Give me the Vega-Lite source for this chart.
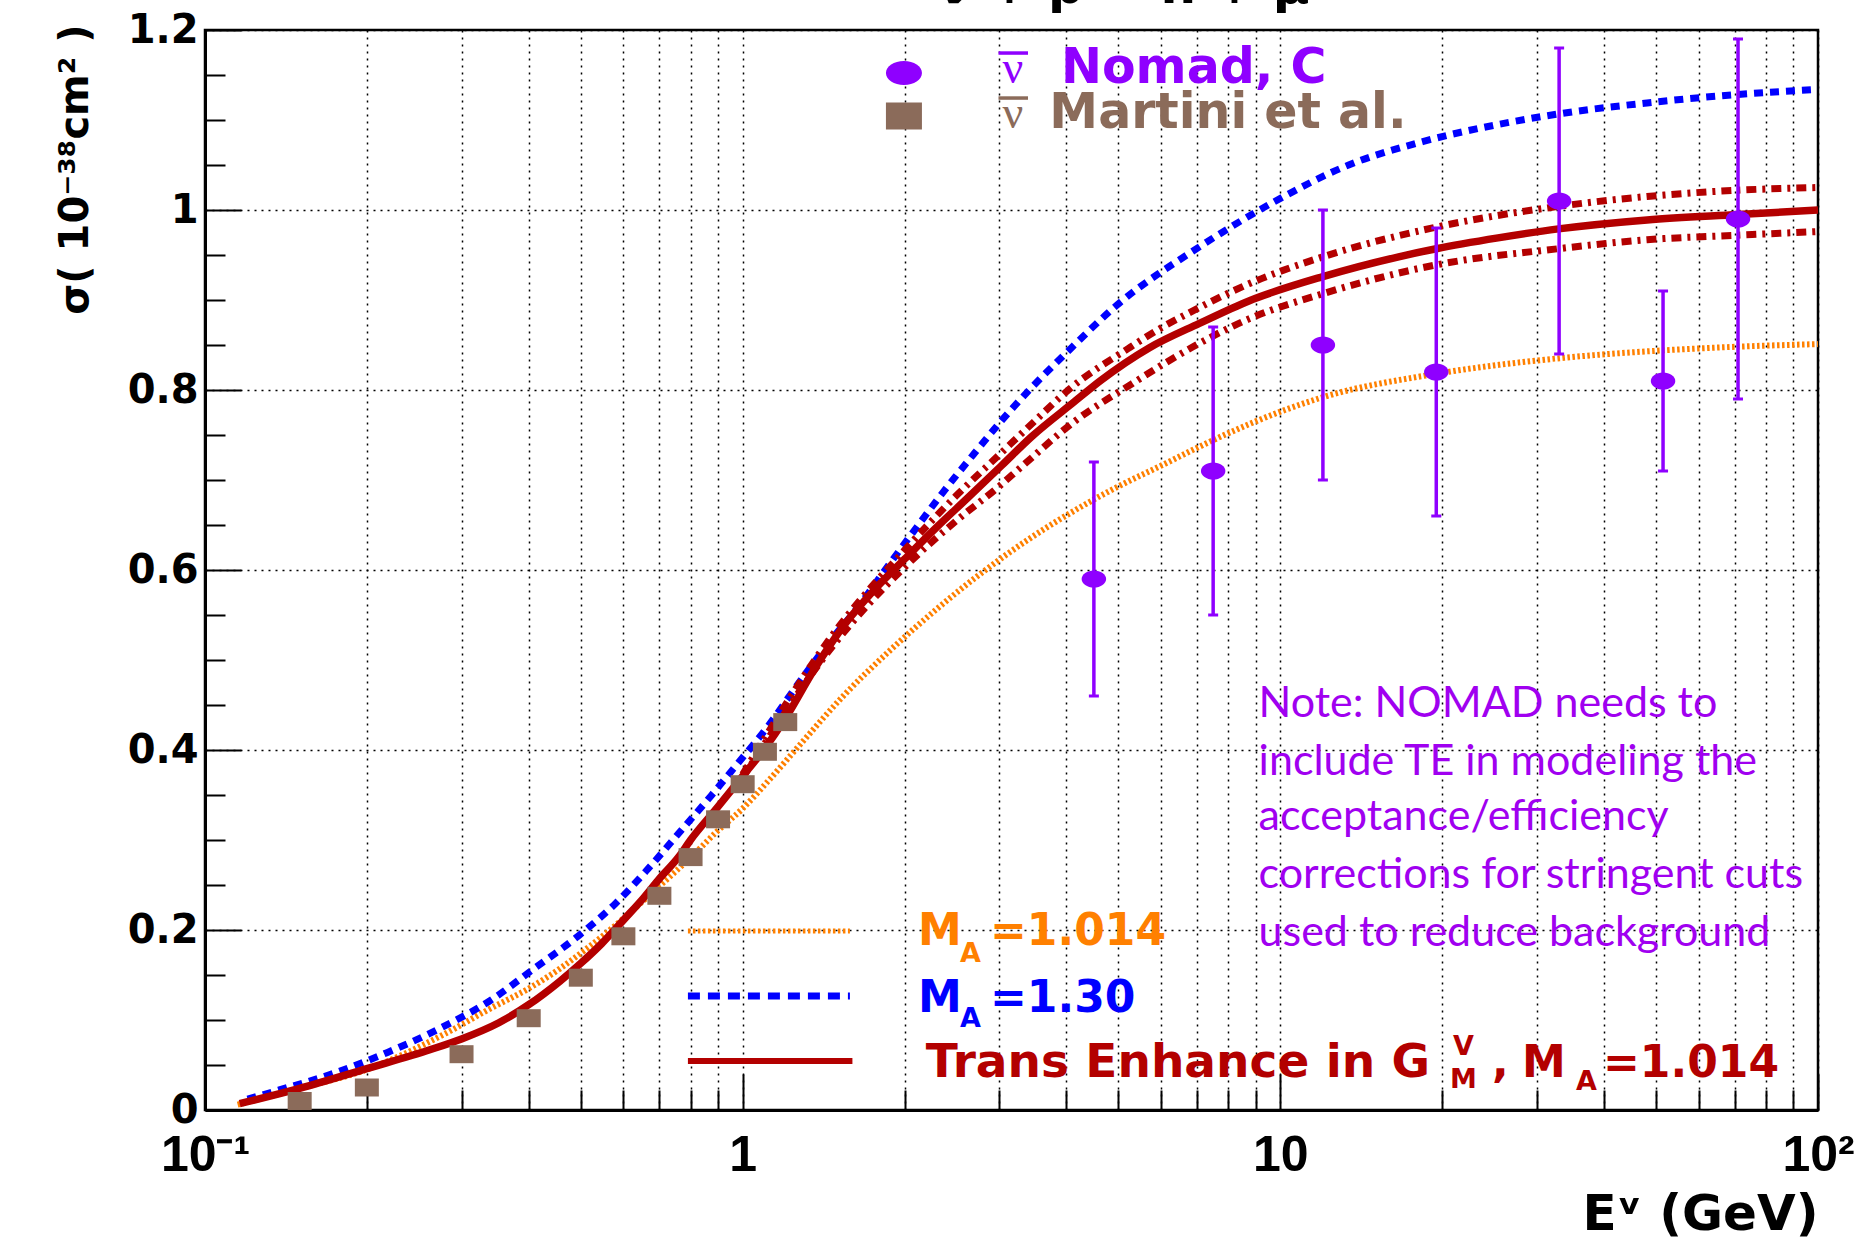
{
 "$schema": "https://vega.github.io/schema/vega-lite/v6.json",
 "width": 1613, "height": 1080,
 "autosize": "none",
 "padding": {"left": 205, "top": 30, "right": 47, "bottom": 130},
 "background": "white",
 "config": {"view": {"stroke": "black", "strokeWidth": 2.5}},
 "title": {"text": "ν + p → n + μ⁺", "anchor": "middle", "dx": 125, "dy": 37, "offset": -6, "baseline": "alphabetic", "font": "DejaVu Sans", "fontSize": 50, "fontWeight": "bold", "color": "black"},
 "datasets": {
  "curves": [
   {"E":0.115,"sigma":0.006,"series":"MA=1.014"},{"E":0.15,"sigma":0.024,"series":"MA=1.014"},{"E":0.2,"sigma":0.045,"series":"MA=1.014"},{"E":0.28,"sigma":0.085,"series":"MA=1.014"},{"E":0.34,"sigma":0.113,"series":"MA=1.014"},{"E":0.4,"sigma":0.135,"series":"MA=1.014"},{"E":0.457,"sigma":0.157,"series":"MA=1.014"},{"E":0.512,"sigma":0.179,"series":"MA=1.014"},{"E":0.556,"sigma":0.196,"series":"MA=1.014"},{"E":0.614,"sigma":0.218,"series":"MA=1.014"},{"E":0.677,"sigma":0.241,"series":"MA=1.014"},{"E":0.747,"sigma":0.264,"series":"MA=1.014"},{"E":0.824,"sigma":0.288,"series":"MA=1.014"},{"E":0.894,"sigma":0.309,"series":"MA=1.014"},{"E":1.0,"sigma":0.335,"series":"MA=1.014"},{"E":1.125,"sigma":0.368,"series":"MA=1.014"},{"E":1.27,"sigma":0.404,"series":"MA=1.014"},{"E":1.55,"sigma":0.462,"series":"MA=1.014"},{"E":1.89,"sigma":0.512,"series":"MA=1.014"},{"E":2.3,"sigma":0.557,"series":"MA=1.014"},{"E":2.8,"sigma":0.598,"series":"MA=1.014"},{"E":3.4,"sigma":0.634,"series":"MA=1.014"},{"E":4.14,"sigma":0.666,"series":"MA=1.014"},{"E":5.04,"sigma":0.694,"series":"MA=1.014"},{"E":6.1,"sigma":0.718,"series":"MA=1.014"},{"E":7.07,"sigma":0.737,"series":"MA=1.014"},{"E":8.74,"sigma":0.762,"series":"MA=1.014"},{"E":12,"sigma":0.792,"series":"MA=1.014"},{"E":19.5,"sigma":0.818,"series":"MA=1.014"},{"E":31.4,"sigma":0.834,"series":"MA=1.014"},{"E":51.4,"sigma":0.844,"series":"MA=1.014"},{"E":70,"sigma":0.848,"series":"MA=1.014"},{"E":100,"sigma":0.851,"series":"MA=1.014"},
   {"E":0.12,"sigma":0.012,"series":"MA=1.30"},{"E":0.137,"sigma":0.022,"series":"MA=1.30"},{"E":0.174,"sigma":0.041,"series":"MA=1.30"},{"E":0.2185,"sigma":0.064,"series":"MA=1.30"},{"E":0.27,"sigma":0.089,"series":"MA=1.30"},{"E":0.34,"sigma":0.122,"series":"MA=1.30"},{"E":0.407,"sigma":0.156,"series":"MA=1.30"},{"E":0.496,"sigma":0.194,"series":"MA=1.30"},{"E":0.579,"sigma":0.229,"series":"MA=1.30"},{"E":0.66,"sigma":0.265,"series":"MA=1.30"},{"E":0.772,"sigma":0.312,"series":"MA=1.30"},{"E":0.873,"sigma":0.349,"series":"MA=1.30"},{"E":0.979,"sigma":0.385,"series":"MA=1.30"},{"E":1.11,"sigma":0.425,"series":"MA=1.30"},{"E":1.27,"sigma":0.474,"series":"MA=1.30"},{"E":1.45,"sigma":0.52,"series":"MA=1.30"},{"E":1.65,"sigma":0.561,"series":"MA=1.30"},{"E":1.83,"sigma":0.598,"series":"MA=1.30"},{"E":2.08,"sigma":0.643,"series":"MA=1.30"},{"E":2.37,"sigma":0.688,"series":"MA=1.30"},{"E":2.7,"sigma":0.73,"series":"MA=1.30"},{"E":3.03,"sigma":0.766,"series":"MA=1.30"},{"E":3.4,"sigma":0.799,"series":"MA=1.30"},{"E":4.01,"sigma":0.842,"series":"MA=1.30"},{"E":4.96,"sigma":0.894,"series":"MA=1.30"},{"E":7.07,"sigma":0.959,"series":"MA=1.30"},{"E":9.73,"sigma":1.009,"series":"MA=1.30"},{"E":13.4,"sigma":1.05,"series":"MA=1.30"},{"E":18.4,"sigma":1.076,"series":"MA=1.30"},{"E":25.4,"sigma":1.095,"series":"MA=1.30"},{"E":34.9,"sigma":1.109,"series":"MA=1.30"},{"E":48.1,"sigma":1.119,"series":"MA=1.30"},{"E":66.2,"sigma":1.127,"series":"MA=1.30"},{"E":100,"sigma":1.134,"series":"MA=1.30"},
   {"E":1.0,"sigma":0.373,"series":"TE upper"},{"E":1.5,"sigma":0.535,"series":"TE upper"},{"E":2.0,"sigma":0.622,"series":"TE upper"},{"E":2.5,"sigma":0.683,"series":"TE upper"},{"E":3.0,"sigma":0.728,"series":"TE upper"},{"E":3.5,"sigma":0.766,"series":"TE upper"},{"E":4.07,"sigma":0.802,"series":"TE upper"},{"E":5.21,"sigma":0.846,"series":"TE upper"},{"E":6.0,"sigma":0.869,"series":"TE upper"},{"E":6.78,"sigma":0.886,"series":"TE upper"},{"E":8.74,"sigma":0.918,"series":"TE upper"},{"E":12,"sigma":0.948,"series":"TE upper"},{"E":19.5,"sigma":0.981,"series":"TE upper"},{"E":32.9,"sigma":1.004,"series":"TE upper"},{"E":48.1,"sigma":1.015,"series":"TE upper"},{"E":71,"sigma":1.022,"series":"TE upper"},{"E":100,"sigma":1.025,"series":"TE upper"},
   {"E":1.0,"sigma":0.369,"series":"TE lower"},{"E":1.5,"sigma":0.522,"series":"TE lower"},{"E":2.0,"sigma":0.603,"series":"TE lower"},{"E":2.5,"sigma":0.655,"series":"TE lower"},{"E":3.0,"sigma":0.693,"series":"TE lower"},{"E":3.29,"sigma":0.714,"series":"TE lower"},{"E":4.14,"sigma":0.765,"series":"TE lower"},{"E":5.3,"sigma":0.807,"series":"TE lower"},{"E":6.88,"sigma":0.848,"series":"TE lower"},{"E":8.74,"sigma":0.879,"series":"TE lower"},{"E":12,"sigma":0.907,"series":"TE lower"},{"E":19.5,"sigma":0.939,"series":"TE lower"},{"E":32.9,"sigma":0.957,"series":"TE lower"},{"E":48.1,"sigma":0.967,"series":"TE lower"},{"E":71,"sigma":0.972,"series":"TE lower"},{"E":100,"sigma":0.976,"series":"TE lower"},
   {"E":0.116,"sigma":0.007,"series":"TE"},{"E":0.15,"sigma":0.024,"series":"TE"},{"E":0.2,"sigma":0.046,"series":"TE"},{"E":0.262,"sigma":0.067,"series":"TE"},{"E":0.3,"sigma":0.079,"series":"TE"},{"E":0.352,"sigma":0.097,"series":"TE"},{"E":0.4,"sigma":0.117,"series":"TE"},{"E":0.457,"sigma":0.143,"series":"TE"},{"E":0.5,"sigma":0.163,"series":"TE"},{"E":0.547,"sigma":0.185,"series":"TE"},{"E":0.6,"sigma":0.211,"series":"TE"},{"E":0.655,"sigma":0.236,"series":"TE"},{"E":0.7,"sigma":0.257,"series":"TE"},{"E":0.76,"sigma":0.281,"series":"TE"},{"E":0.8,"sigma":0.3,"series":"TE"},{"E":0.9,"sigma":0.337,"series":"TE"},{"E":1.0,"sigma":0.371,"series":"TE"},{"E":1.1,"sigma":0.402,"series":"TE"},{"E":1.2,"sigma":0.435,"series":"TE"},{"E":1.36,"sigma":0.49,"series":"TE"},{"E":1.55,"sigma":0.54,"series":"TE"},{"E":1.77,"sigma":0.58,"series":"TE"},{"E":2.0,"sigma":0.612,"series":"TE"},{"E":2.3,"sigma":0.648,"series":"TE"},{"E":2.62,"sigma":0.68,"series":"TE"},{"E":3.03,"sigma":0.716,"series":"TE"},{"E":3.46,"sigma":0.749,"series":"TE"},{"E":4.14,"sigma":0.787,"series":"TE"},{"E":4.62,"sigma":0.81,"series":"TE"},{"E":5.71,"sigma":0.847,"series":"TE"},{"E":7.07,"sigma":0.874,"series":"TE"},{"E":8.74,"sigma":0.899,"series":"TE"},{"E":12,"sigma":0.926,"series":"TE"},{"E":16.6,"sigma":0.948,"series":"TE"},{"E":19.5,"sigma":0.957,"series":"TE"},{"E":25.4,"sigma":0.969,"series":"TE"},{"E":32.9,"sigma":0.979,"series":"TE"},{"E":48.1,"sigma":0.989,"series":"TE"},{"E":71,"sigma":0.995,"series":"TE"},{"E":100,"sigma":1.0,"series":"TE"}
  ],
  "legendlines": [
   {"E":0.791,"sigma":0.1989,"series":"MA=1.014"},{"E":1.583,"sigma":0.1989,"series":"MA=1.014"},
   {"E":0.791,"sigma":0.1267,"series":"MA=1.30"},{"E":1.583,"sigma":0.1267,"series":"MA=1.30"},
   {"E":0.791,"sigma":0.0544,"series":"TE"},{"E":1.6,"sigma":0.0544,"series":"TE"}
  ],
  "nomad": [
   {"E":4.5,"sigma":0.59,"lo":0.46,"hi":0.72},
   {"E":7.5,"sigma":0.71,"lo":0.55,"hi":0.87},
   {"E":12,"sigma":0.85,"lo":0.70,"hi":1.0},
   {"E":19.5,"sigma":0.82,"lo":0.66,"hi":0.98},
   {"E":33,"sigma":1.01,"lo":0.84,"hi":1.18},
   {"E":51.5,"sigma":0.81,"lo":0.71,"hi":0.91},
   {"E":71,"sigma":0.99,"lo":0.79,"hi":1.19}
  ],
  "martini": [
   {"E":0.15,"sigma":0.010},{"E":0.2,"sigma":0.025},{"E":0.3,"sigma":0.062},{"E":0.4,"sigma":0.102},{"E":0.5,"sigma":0.147},{"E":0.6,"sigma":0.193},{"E":0.7,"sigma":0.238},{"E":0.8,"sigma":0.281},{"E":0.9,"sigma":0.323},{"E":1.0,"sigma":0.362},{"E":1.1,"sigma":0.398},{"E":1.2,"sigma":0.431}
  ],
  "legendmarks": [
   {"E":1.995,"sigma":1.1522,"series":"Nomad"},
   {"E":1.995,"sigma":1.1044,"series":"Martini"}
  ],
  "bars": [
   {"E":2.991,"E2":3.394,"sigma":1.1744,"series":"Nomad"},
   {"E":2.991,"E2":3.394,"sigma":1.1244,"series":"Martini"}
  ],
  "texts": [
   {"E":3.183,"sigma":1.1411,"text":"ν","series":"Nomad","kind":"nu"},
   {"E":3.183,"sigma":1.0911,"text":"ν","series":"Martini","kind":"nu"},
   {"E":6.9,"sigma":1.1408,"text":"Nomad, C","series":"Nomad","kind":"top"},
   {"E":7.99,"sigma":1.0911,"text":"Martini et al.","series":"Martini","kind":"top"},
   {"E":2.119,"sigma":0.1833,"text":"M","series":"MA=1.014","kind":"big"},
   {"E":2.536,"sigma":0.1644,"text":"A","series":"MA=1.014","kind":"sub"},
   {"E":2.884,"sigma":0.1833,"text":"=1.014","series":"MA=1.014","kind":"big"},
   {"E":2.119,"sigma":0.1089,"text":"M","series":"MA=1.30","kind":"big"},
   {"E":2.536,"sigma":0.0922,"text":"A","series":"MA=1.30","kind":"sub"},
   {"E":2.884,"sigma":0.1089,"text":"=1.30","series":"MA=1.30","kind":"big"},
   {"E":6.45,"sigma":0.0367,"text":"Trans Enhance in G","series":"TE","kind":"te"},
   {"E":20.95,"sigma":0.0611,"text":"V","series":"TE","kind":"sub"},
   {"E":20.68,"sigma":0.0244,"text":"M","series":"TE","kind":"sub"},
   {"E":24.75,"sigma":0.0367,"text":",","series":"TE","kind":"big"},
   {"E":28.14,"sigma":0.0367,"text":"M","series":"TE","kind":"big"},
   {"E":35.47,"sigma":0.0222,"text":"A","series":"TE","kind":"sub"},
   {"E":39.82,"sigma":0.0367,"text":"=1.014","series":"TE","kind":"big"},
   {"E":9.11,"sigma":0.437,"text":"Note: NOMAD needs to","series":"note","kind":"note"},
   {"E":9.11,"sigma":0.372,"text":"include TE in modeling  the","series":"note","kind":"note"},
   {"E":9.11,"sigma":0.311,"text":"acceptance/efficiency","series":"note","kind":"note"},
   {"E":9.11,"sigma":0.247,"text":"corrections for stringent cuts","series":"note","kind":"note"},
   {"E":9.11,"sigma":0.182,"text":"used to reduce background","series":"note","kind":"note"}
  ]
 },
 "layer": [
  {
   "data": {"name": "curves"},
   "transform": [{"filter": "datum.series == 'MA=1.014'"}],
   "mark": {"type": "line", "color": "#ff8000", "strokeWidth": 6, "strokeDash": [2.5, 2.5], "interpolate": "monotone", "clip": true},
   "encoding": {
    "x": {"field": "E", "type": "quantitative", "scale": {"type": "log", "domain": [0.1, 100], "nice": false},
     "axis": {
      "title": "Eᵛ (GeV)",
      "values": [0.1,0.2,0.3,0.4,0.5,0.6,0.7,0.8,0.9,1,2,3,4,5,6,7,8,9,10,20,30,40,50,60,70,80,90,100],
      "labelExpr": "datum.value == 0.1 ? '10⁻¹' : datum.value == 1 ? '1' : datum.value == 10 ? '10' : datum.value == 100 ? '10²' : ''",
      "grid": true, "gridColor": "black", "gridDash": [2, 5], "gridWidth": 1.5, "gridOpacity": 1,
      "domainColor": "black", "domainWidth": 3,
      "tickColor": "black", "tickWidth": 2,
      "tickSize": {"condition": {"test": "datum.value == 0.1 || datum.value == 1 || datum.value == 10 || datum.value == 100", "value": -36}, "value": -20},
      "labelPadding": 56, "labelFont": "Liberation Sans Narrow, Liberation Sans", "labelFontSize": 50, "labelFontWeight": "bold", "labelColor": "black",
      "labelFlush": false, "labelOverlap": false, "labelBound": false,
      "titleX": 1613, "titleY": 119, "titleAlign": "right", "titleAnchor": "end", "titleBaseline": "alphabetic",
      "titleFont": "DejaVu Sans", "titleFontSize": 50, "titleFontWeight": "bold", "titleColor": "black"
     }},
    "y": {"field": "sigma", "type": "quantitative", "scale": {"domain": [0, 1.2], "nice": false, "zero": false},
     "axis": {
      "title": "σ( 10⁻³⁸cm² )",
      "values": [0,0.05,0.1,0.15,0.2,0.25,0.3,0.35,0.4,0.45,0.5,0.55,0.6,0.65,0.7,0.75,0.8,0.85,0.9,0.95,1,1.05,1.1,1.15,1.2],
      "labelExpr": "abs(datum.value*5 - round(datum.value*5)) < 0.001 ? format(datum.value, '~g') : ''",
      "grid": true, "gridColor": "black", "gridDash": [2, 5], "gridWidth": 1.5,
      "gridOpacity": {"condition": {"test": "abs(datum.value*5 - round(datum.value*5)) < 0.001", "value": 1}, "value": 0},
      "domainColor": "black", "domainWidth": 3,
      "tickColor": "black", "tickWidth": 2,
      "tickSize": {"condition": {"test": "abs(datum.value*5 - round(datum.value*5)) < 0.001", "value": -36}, "value": -20},
      "labelPadding": 43, "labelFont": "DejaVu Sans", "labelFontSize": 40, "labelFontWeight": "bold", "labelColor": "black",
      "labelFlush": false, "labelOverlap": false, "labelBound": false,
      "titleAngle": -90, "titleX": -118, "titleY": -6, "titleAlign": "right", "titleBaseline": "alphabetic",
      "titleFont": "DejaVu Sans", "titleFontSize": 40, "titleFontWeight": "bold", "titleColor": "black"
     }}
   }
  },
  {
   "data": {"name": "curves"},
   "transform": [{"filter": "datum.series == 'MA=1.30'"}],
   "mark": {"type": "line", "color": "#0000ff", "strokeWidth": 7, "strokeDash": [9, 7], "interpolate": "monotone", "clip": true},
   "encoding": {"x": {"field": "E", "type": "quantitative"}, "y": {"field": "sigma", "type": "quantitative"}}
  },
  {
   "data": {"name": "curves"},
   "transform": [{"filter": "datum.series == 'TE upper' || datum.series == 'TE lower'"}],
   "mark": {"type": "line", "color": "#b30000", "strokeWidth": 7, "strokeDash": [10, 6, 3, 6], "interpolate": "monotone", "clip": true},
   "encoding": {"x": {"field": "E", "type": "quantitative"}, "y": {"field": "sigma", "type": "quantitative"}, "detail": {"field": "series"}}
  },
  {
   "data": {"name": "curves"},
   "transform": [{"filter": "datum.series == 'TE'"}],
   "mark": {"type": "line", "color": "#b30000", "strokeWidth": 7.5, "interpolate": "monotone", "clip": true},
   "encoding": {"x": {"field": "E", "type": "quantitative"}, "y": {"field": "sigma", "type": "quantitative"}}
  },
  {
   "data": {"name": "legendlines"},
   "transform": [{"filter": "datum.series == 'MA=1.014'"}],
   "mark": {"type": "line", "color": "#ff8000", "strokeWidth": 5, "strokeDash": [2.5, 2.5]},
   "encoding": {"x": {"field": "E", "type": "quantitative"}, "y": {"field": "sigma", "type": "quantitative"}}
  },
  {
   "data": {"name": "legendlines"},
   "transform": [{"filter": "datum.series == 'MA=1.30'"}],
   "mark": {"type": "line", "color": "#0000ff", "strokeWidth": 7, "strokeDash": [12, 8]},
   "encoding": {"x": {"field": "E", "type": "quantitative"}, "y": {"field": "sigma", "type": "quantitative"}}
  },
  {
   "data": {"name": "legendlines"},
   "transform": [{"filter": "datum.series == 'TE'"}],
   "mark": {"type": "line", "color": "#b30000", "strokeWidth": 6},
   "encoding": {"x": {"field": "E", "type": "quantitative"}, "y": {"field": "sigma", "type": "quantitative"}}
  },
  {
   "data": {"name": "martini"},
   "mark": {"type": "point", "shape": "M-1,-0.75L1,-0.75L1,0.75L-1,0.75Z", "size": 576, "filled": true, "color": "#8b6b5a", "opacity": 1, "clip": true},
   "encoding": {"x": {"field": "E", "type": "quantitative"}, "y": {"field": "sigma", "type": "quantitative"}}
  },
  {
   "data": {"name": "nomad"},
   "mark": {"type": "rule", "color": "#8f00ff", "strokeWidth": 3.5},
   "encoding": {"x": {"field": "E", "type": "quantitative"}, "y": {"field": "lo", "type": "quantitative"}, "y2": {"field": "hi"}}
  },
  {
   "data": {"name": "nomad"},
   "mark": {"type": "tick", "orient": "horizontal", "color": "#8f00ff", "size": 10, "thickness": 3, "opacity": 1},
   "encoding": {"x": {"field": "E", "type": "quantitative"}, "y": {"field": "lo", "type": "quantitative"}}
  },
  {
   "data": {"name": "nomad"},
   "mark": {"type": "tick", "orient": "horizontal", "color": "#8f00ff", "size": 10, "thickness": 3, "opacity": 1},
   "encoding": {"x": {"field": "E", "type": "quantitative"}, "y": {"field": "hi", "type": "quantitative"}}
  },
  {
   "data": {"name": "nomad"},
   "mark": {"type": "point", "shape": "M-1,0C-1,-0.387,-0.552,-0.7,0,-0.7C0.552,-0.7,1,-0.387,1,0C1,0.387,0.552,0.7,0,0.7C-0.552,0.7,-1,0.387,-1,0Z", "size": 600, "filled": true, "color": "#8f00ff", "opacity": 1},
   "encoding": {"x": {"field": "E", "type": "quantitative"}, "y": {"field": "sigma", "type": "quantitative"}}
  },
  {
   "data": {"name": "legendmarks"},
   "transform": [{"filter": "datum.series == 'Nomad'"}],
   "mark": {"type": "point", "shape": "M-1,0C-1,-0.368,-0.552,-0.667,0,-0.667C0.552,-0.667,1,-0.368,1,0C1,0.368,0.552,0.667,0,0.667C-0.552,0.667,-1,0.368,-1,0Z", "size": 1296, "filled": true, "color": "#8f00ff", "opacity": 1},
   "encoding": {"x": {"field": "E", "type": "quantitative"}, "y": {"field": "sigma", "type": "quantitative"}}
  },
  {
   "data": {"name": "legendmarks"},
   "transform": [{"filter": "datum.series == 'Martini'"}],
   "mark": {"type": "point", "shape": "M-1,-0.75L1,-0.75L1,0.75L-1,0.75Z", "size": 1296, "filled": true, "color": "#8b6b5a", "opacity": 1},
   "encoding": {"x": {"field": "E", "type": "quantitative"}, "y": {"field": "sigma", "type": "quantitative"}}
  },
  {
   "data": {"name": "bars"},
   "mark": {"type": "rule", "strokeWidth": 3.5},
   "encoding": {"x": {"field": "E", "type": "quantitative"}, "x2": {"field": "E2"}, "y": {"field": "sigma", "type": "quantitative"},
    "color": {"field": "series", "type": "nominal", "scale": {"domain": ["Nomad","Martini","MA=1.014","MA=1.30","TE","note"], "range": ["#8f00ff","#8b6b5a","#ff8000","#0000ff","#b30000","#a000f0"]}, "legend": null}}
  },
  {
   "data": {"name": "texts"},
   "transform": [{"filter": "datum.kind == 'nu'"}],
   "mark": {"type": "text", "font": "Liberation Serif", "fontSize": 46, "align": "center", "baseline": "alphabetic"},
   "encoding": {"x": {"field": "E", "type": "quantitative"}, "y": {"field": "sigma", "type": "quantitative"}, "text": {"field": "text"},
    "color": {"field": "series", "type": "nominal", "legend": null}}
  },
  {
   "data": {"name": "texts"},
   "transform": [{"filter": "datum.kind == 'top'"}],
   "mark": {"type": "text", "font": "DejaVu Sans", "fontWeight": "bold", "fontSize": 49, "align": "center", "baseline": "alphabetic"},
   "encoding": {"x": {"field": "E", "type": "quantitative"}, "y": {"field": "sigma", "type": "quantitative"}, "text": {"field": "text"},
    "color": {"field": "series", "type": "nominal", "legend": null}}
  },
  {
   "data": {"name": "texts"},
   "transform": [{"filter": "datum.kind == 'te'"}],
   "mark": {"type": "text", "font": "DejaVu Sans", "fontWeight": "bold", "fontSize": 47, "align": "center", "baseline": "alphabetic"},
   "encoding": {"x": {"field": "E", "type": "quantitative"}, "y": {"field": "sigma", "type": "quantitative"}, "text": {"field": "text"},
    "color": {"field": "series", "type": "nominal", "legend": null}}
  },
  {
   "data": {"name": "texts"},
   "transform": [{"filter": "datum.kind == 'big'"}],
   "mark": {"type": "text", "font": "DejaVu Sans", "fontWeight": "bold", "fontSize": 44, "align": "left", "baseline": "alphabetic"},
   "encoding": {"x": {"field": "E", "type": "quantitative"}, "y": {"field": "sigma", "type": "quantitative"}, "text": {"field": "text"},
    "color": {"field": "series", "type": "nominal", "legend": null}}
  },
  {
   "data": {"name": "texts"},
   "transform": [{"filter": "datum.kind == 'sub'"}],
   "mark": {"type": "text", "font": "DejaVu Sans", "fontWeight": "bold", "fontSize": 27, "align": "left", "baseline": "alphabetic"},
   "encoding": {"x": {"field": "E", "type": "quantitative"}, "y": {"field": "sigma", "type": "quantitative"}, "text": {"field": "text"},
    "color": {"field": "series", "type": "nominal", "legend": null}}
  },
  {
   "data": {"name": "texts"},
   "transform": [{"filter": "datum.kind == 'note'"}],
   "mark": {"type": "text", "font": "Lato", "fontSize": 43, "align": "left", "baseline": "alphabetic"},
   "encoding": {"x": {"field": "E", "type": "quantitative"}, "y": {"field": "sigma", "type": "quantitative"}, "text": {"field": "text"},
    "color": {"field": "series", "type": "nominal", "legend": null}}
  }
 ]
}
